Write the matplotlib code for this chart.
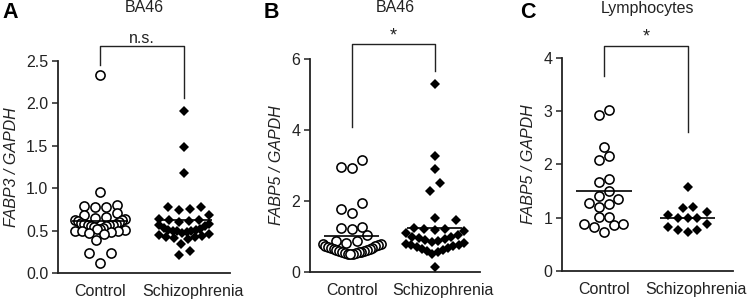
import numpy as np
import matplotlib
matplotlib.use("Agg")
import matplotlib.pyplot as plt

plt.rcParams['font.family'] = ['Liberation Sans', 'DejaVu Sans']

groups = ["Control", "Schizophrenia"]
panel_letters = ["A", "B", "C"]
panel_titles = ["BA46", "BA46", "Lymphocytes"]
ylabels = ["FABP3 / GAPDH", "FABP5 / GAPDH", "FABP5 / GAPDH"]
yticks = [[0.0, 0.5, 1.0, 1.5, 2.0, 2.5], [0, 2, 4, 6], [0, 1, 2, 3, 4]]
ytick_labels = [["0.0", "0.5", "1.0", "1.5", "2.0", "2.5"], ["0", "2", "4", "6"], ["0", "1", "2", "3", "4"]]
ymax = [2.5, 6, 4]
sig_labels = ["n.s.", "*", "*"]
bracket_top = [2.68, 6.42, 4.23]
bracket_left_end = [2.45, 4.08, 3.66]
bracket_right_end = [2.06, 5.66, 2.61]

ctrl_A = [2.33, 0.95, 0.80, 0.79, 0.78, 0.78, 0.71, 0.68, 0.66, 0.65, 0.64, 0.63,
          0.62, 0.61, 0.60, 0.59, 0.58, 0.58, 0.57, 0.56, 0.56, 0.55, 0.55, 0.54,
          0.53, 0.52, 0.52, 0.51, 0.50, 0.50, 0.49, 0.48, 0.47, 0.46, 0.39, 0.24,
          0.23, 0.12]
schz_A = [1.91, 1.49, 1.18, 0.78, 0.78, 0.75, 0.74, 0.68, 0.64, 0.63, 0.62, 0.61,
          0.60, 0.58, 0.56, 0.55, 0.53, 0.52, 0.51, 0.51, 0.50, 0.50, 0.49, 0.48,
          0.47, 0.46, 0.45, 0.44, 0.43, 0.42, 0.41, 0.40, 0.34, 0.26, 0.21]
ctrl_B = [3.15, 2.97, 2.92, 1.93, 1.77, 1.67, 1.28, 1.22, 1.23, 1.04, 0.86, 0.86,
          0.81, 0.80, 0.78, 0.76, 0.74, 0.72, 0.70, 0.68, 0.67, 0.65, 0.64, 0.62,
          0.61, 0.60, 0.58, 0.57, 0.56, 0.55, 0.54, 0.53, 0.52, 0.51, 0.50]
schz_B = [5.29, 3.28, 2.90, 2.50, 2.28, 1.53, 1.46, 1.25, 1.22, 1.20, 1.18, 1.15,
          1.10, 1.05, 1.00, 0.98, 0.95, 0.93, 0.90, 0.88, 0.85, 0.82, 0.80, 0.77,
          0.75, 0.72, 0.70, 0.67, 0.64, 0.61, 0.58, 0.55, 0.52, 0.15]
ctrl_C = [3.02, 2.93, 2.32, 2.16, 2.08, 1.73, 1.68, 1.51, 1.41, 1.35, 1.26, 1.27,
          1.20, 1.02, 1.01, 0.89, 0.87, 0.89, 0.83, 0.74]
schz_C = [1.57, 1.18, 1.21, 1.11, 1.05, 0.99, 0.99, 0.99, 0.88, 0.83, 0.77, 0.77, 0.74]

means_ctrl = [0.61, 1.02, 1.51]
means_schz = [0.63, 1.25, 1.00]

data = [(ctrl_A, schz_A), (ctrl_B, schz_B), (ctrl_C, schz_C)]

# layout only (pixels): row height, point pitch and max row width, Prism-like scatter
row_h = [11, 11, 10]
pitch = [11, 10.5, 9.7]
max_w = [50, 58, 50]


def row_offsets(ax, vals, center, h, p, wmax):
    """Group values into rows of height h px; spread each row symmetrically,
    lowest value in the middle, higher values alternately outwards (left first)."""
    vals = np.asarray(vals, dtype=float)
    pts = ax.transData.transform(np.column_stack([np.full(len(vals), center), vals]))
    ypx = pts[:, 1]
    xc = pts[0, 0]
    order = np.argsort(ypx, kind="stable")
    rows, cur, start = [], [], None
    for idx in order:
        if start is None or ypx[idx] - start > h:
            if cur:
                rows.append(cur)
            cur, start = [idx], ypx[idx]
        else:
            cur.append(idx)
    if cur:
        rows.append(cur)
    xs = np.zeros(len(vals))
    for r in rows:
        n = len(r)
        sp = p if n < 2 else min(p, wmax / (n - 1))
        if n % 2 == 1:
            slots = [0]
            k = 1
            while len(slots) < n:
                slots += [-k, k]
                k += 1
        else:
            slots = []
            k = 0.5
            while len(slots) < n:
                slots += [-k, k]
                k += 1
        for idx, s in zip(r, slots[:n]):
            xs[idx] = s * sp
    disp = np.column_stack([xc + xs, ypx])
    return ax.transData.inverted().transform(disp)[:, 0]


fig = plt.figure(figsize=(7.5, 3.0), dpi=100)
axes_rects = [[0.0773, 0.09, 0.229, 0.707],
              [0.4133, 0.0933, 0.2267, 0.71],
              [0.7493, 0.0967, 0.228, 0.71]]
letter_x = [0.003, 0.351, 0.693]

dark = "#222222"
for i in range(3):
    ax = fig.add_axes(axes_rects[i])
    ctrl, schz = data[i]
    ax.set_xlim(-0.5, 1.54)
    ax.set_ylim(0, ymax[i])
    xc = row_offsets(ax, ctrl, 0, row_h[i], pitch[i], max_w[i])
    xs = row_offsets(ax, schz, 1, row_h[i], pitch[i], max_w[i])
    ax.plot(xc, ctrl, linestyle="none", marker="o", markersize=6.6,
            markerfacecolor="white", markeredgecolor="black", markeredgewidth=1.15,
            zorder=3, clip_on=False)
    ax.plot(xs, schz, linestyle="none", marker="D", markersize=5.2,
            markerfacecolor="black", markeredgecolor="black", markeredgewidth=0,
            zorder=3, clip_on=False)
    ax.hlines([means_ctrl[i]], -0.33, 0.33, color="black", lw=1.2, zorder=4)
    ax.hlines([means_schz[i]], 1 - 0.33, 1 + 0.33, color="black", lw=1.2, zorder=4)
    ax.set_yticks(yticks[i])
    ax.set_yticklabels(ytick_labels[i], fontsize=11.5, color=dark)
    ax.set_xticks([0, 1.1])
    ax.set_xticklabels(groups, fontsize=11.5, color=dark)
    ax.tick_params(axis="x", length=0, pad=8)
    ax.tick_params(axis="y", length=4, width=1.1, color=dark, pad=3, direction="out")
    for s in ["top", "right"]:
        ax.spines[s].set_visible(False)
    for s in ["left", "bottom"]:
        ax.spines[s].set_linewidth(1.3)
        ax.spines[s].set_color(dark)
    ax.set_ylabel(ylabels[i], fontsize=11.5, style="italic", color=dark, labelpad=5)
    ax.plot([0, 0, 1, 1], [bracket_left_end[i], bracket_top[i], bracket_top[i], bracket_right_end[i]],
            color=dark, lw=1.0, clip_on=False)
    ax.text(0.5, bracket_top[i], sig_labels[i], ha="center", va="bottom",
            fontsize=11.5 if sig_labels[i] != "*" else 13, color=dark)
    pos = ax.get_position()
    fig.text(pos.x0 + pos.width / 2, 1 - 8 / 300, panel_titles[i], ha="center", va="center",
             fontsize=11.5, color=dark)
    fig.text(letter_x[i], 0.995, panel_letters[i], ha="left", va="top",
             fontsize=15.5, fontweight="bold", color="black")

fig.savefig("out.png", dpi=100)
